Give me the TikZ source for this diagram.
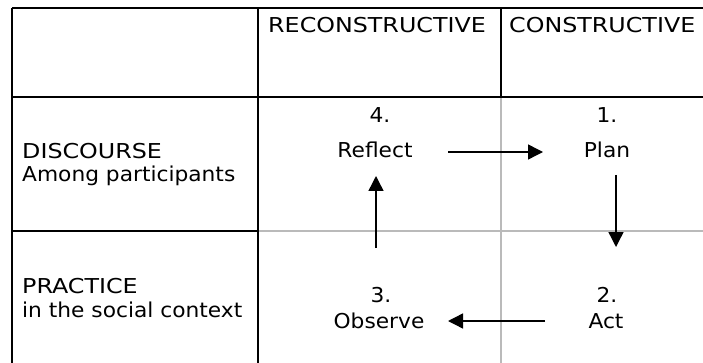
\documentclass[tikz,border=0pt]{standalone}
\usepackage{fontspec}
\setmainfont[FakeStretch=1.06]{DejaVu Sans}
\newfontfamily\capsfont[FakeStretch=1.16]{DejaVu Sans}
\usetikzlibrary{arrows.meta}
\begin{document}
\begin{tikzpicture}[x=1pt,y=-1pt,
  blackline/.style={line width=1.6pt,black},
  grayline/.style={line width=1.2pt,black!27},
  lbl/.style={anchor=base west,inner sep=0pt,font=\fontsize{20.5}{24}\selectfont},
  caplbl/.style={lbl,font=\capsfont\fontsize{20.5}{24}\selectfont},
  stepbox/.style={anchor=base,inner sep=0pt,font=\fontsize{20.5}{24}\selectfont},
  arr/.style={line width=1.4pt,-{Triangle[length=15pt,width=15pt]}}]
\useasboundingbox (0,0) rectangle (703,363);
% grid
\draw[grayline] (258,231) -- (703,231);
\draw[grayline] (501,97) -- (501,363);
\draw[blackline] (12,8) -- (703,8);
\draw[blackline] (12,97) -- (703,97);
\draw[blackline] (12,231) -- (258,231);
\draw[blackline] (12,8) -- (12,363);
\draw[blackline] (258,8) -- (258,363);
\draw[blackline] (501,8) -- (501,97);
% headers
\node[caplbl] (hrec) at (268,33) {RECONSTRUCTIVE};
\node[caplbl] (hcon) at (509,33) {CONSTRUCTIVE};
% row labels
\node[caplbl] (disc) at (22,159) {DISCOURSE};
\node[lbl] (among) at (22,182) {Among participants};
\node[caplbl] (prac) at (22,293) {PRACTICE};
\node[lbl] (insoc) at (22,317) {in the social context};
% steps
\node[stepbox] (n4) at (380,123) {4.};
\node[stepbox] (reflect) at (375,158) {Reflect};
\node[stepbox] (n1) at (607,123) {1.};
\node[stepbox] (plan) at (607,158) {Plan};
\node[stepbox] (n3) at (381,302) {3.};
\node[stepbox] (observe) at (379,328) {Observe};
\node[stepbox] (n2) at (607,302) {2.};
\node[stepbox] (act) at (606,328) {Act};
% arrows
\draw[arr] ([shift={(73,-6)}]reflect.base) -- ([shift={(-64,-6)}]plan.base);
\draw[arr] ([shift={(9,17)}]plan.base) -- ([shift={(9,-55)}]n2.base);
\draw[arr] ([shift={(-61,-7)}]act.base) -- ([shift={(69,-7)}]observe.base);
\draw[arr] ([shift={(-5,-54)}]n3.base) -- ([shift={(1,18)}]reflect.base);
\end{tikzpicture}
\end{document}
